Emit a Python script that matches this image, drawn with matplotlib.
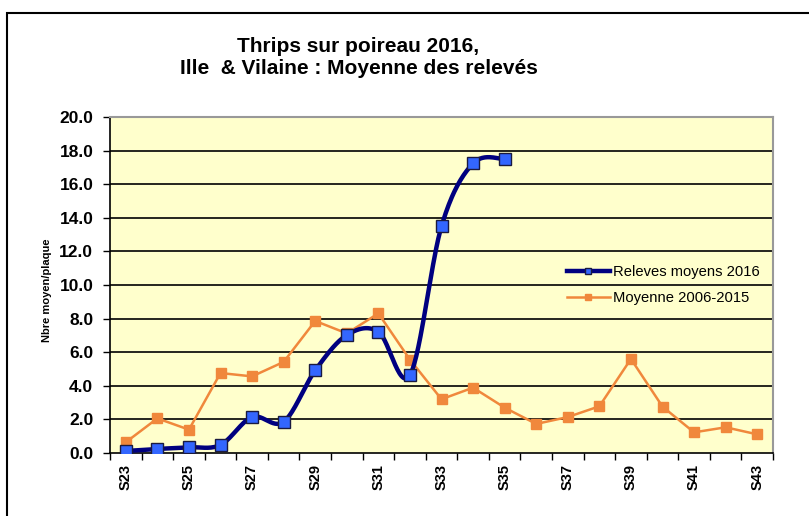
import numpy as np
import matplotlib
matplotlib.use("Agg")
import matplotlib.pyplot as plt
from matplotlib.patches import Rectangle
from matplotlib.lines import Line2D

weeks = ["S%d" % w for w in range(23, 44)]
releves_2016 = [0.12, 0.24, 0.34, 0.48, 2.14, 1.86, 4.92, 7.02, 7.22, 4.64, 13.5, 17.24, 17.5]
moyenne_2006_2015 = [0.64, 2.06, 1.39, 4.76, 4.56, 5.42, 7.86, 7.12, 8.31, 5.56, 3.2, 3.89,
                     2.70, 1.73, 2.14, 2.78, 5.6, 2.76, 1.23, 1.53, 1.11]
yticks = [0, 2, 4, 6, 8, 10, 12, 14, 16, 18, 20]

plt.rcParams['font.family'] = ['Liberation Sans', 'DejaVu Sans']

W, H = 809, 516
fig = plt.figure(figsize=(W / 100, H / 100), dpi=100)
ax = fig.add_axes([110 / W, 1 - 453 / H, (773 - 110) / W, (453 - 117) / H])
ax.set_facecolor('#FFFFCC')

# outer frame
fig.patches.append(Rectangle((7 / W, -0.1), 1.2, 1 - 13 / H + 0.1, transform=fig.transFigure,
                             fill=False, edgecolor='black', linewidth=1.5))


def smooth(xs, ys, n=30):
    xs = np.asarray(xs, float)
    ys = np.asarray(ys, float)
    px = np.concatenate([[xs[0]], xs, [xs[-1]]])
    py = np.concatenate([[ys[0]], ys, [ys[-1]]])
    outx, outy = [], []
    t = np.linspace(0, 1, n, endpoint=False)
    for i in range(1, len(px) - 2):
        for arr, out in ((px, outx), (py, outy)):
            p0, p1, p2, p3 = arr[i - 1], arr[i], arr[i + 1], arr[i + 2]
            c1 = p1 + (p2 - p0) / 6
            c2 = p2 - (p3 - p1) / 6
            out.extend((1 - t) ** 3 * p1 + 3 * (1 - t) ** 2 * t * c1 + 3 * (1 - t) * t ** 2 * c2 + t ** 3 * p2)
    outx.append(xs[-1])
    outy.append(ys[-1])
    return np.array(outx), np.array(outy)


x_all = np.arange(len(weeks))
x_b = np.arange(len(releves_2016))

for y in yticks[1:-1]:
    ax.axhline(y, color='black', linewidth=1.2, zorder=1)

orange = '#F0883C'
ax.plot(x_all, moyenne_2006_2015, color=orange, linewidth=1.8, marker='s', markersize=7,
        markerfacecolor=orange, markeredgecolor=orange, zorder=3)

sx, sy = smooth(x_b, releves_2016)
ax.plot(sx, sy, color='#000080', linewidth=3.2, zorder=4)
ax.plot(x_b, releves_2016, linestyle='none', marker='s', markersize=9,
        markerfacecolor='#3366FF', markeredgecolor='#1A1A40', markeredgewidth=1.0, zorder=5)

h1 = Line2D([], [], color='#000080', linewidth=3.2, marker='s', markersize=5,
            markerfacecolor='#3366FF', markeredgecolor='#1A1A40')
h2 = Line2D([], [], color=orange, linewidth=1.8, marker='s', markersize=5,
            markerfacecolor=orange, markeredgecolor=orange)
leg = ax.legend([h1, h2], ['Releves moyens 2016', 'Moyenne 2006-2015'], loc='upper left',
                bbox_to_anchor=((567 - 110) / (773 - 110), 1 - (265 - 117) / (453 - 117)),
                frameon=False, fontsize=10.6, handlelength=2.9, handletextpad=0.25,
                labelspacing=0.8, borderaxespad=0, borderpad=0)

ax.set_xlim(-0.5, len(weeks) - 0.5)
ax.set_ylim(0, 20)
ax.set_yticks(yticks)
ax.set_yticklabels(["%.1f" % v for v in yticks], fontsize=12.5, fontweight='bold')
ax.set_xticks(x_all)
ax.set_xticklabels([w if i % 2 == 0 else '' for i, w in enumerate(weeks)], rotation=90,
                   fontsize=10.5, fontweight='bold')
ax.set_xticks(np.arange(-0.5, len(weeks), 1), minor=True)
ax.tick_params(axis='x', which='major', length=0, pad=8)
ax.tick_params(axis='x', which='minor', length=5, width=1, direction='out')
ax.tick_params(axis='y', length=5, width=1, direction='out', pad=7)

ax.spines['left'].set_color('black')
ax.spines['bottom'].set_color('black')
ax.spines['left'].set_linewidth(1.2)
ax.spines['bottom'].set_linewidth(1.2)
ax.spines['top'].set_color('#999999')
ax.spines['right'].set_color('#999999')
ax.spines['top'].set_linewidth(1.5)
ax.spines['right'].set_linewidth(1.5)

fig.text(47 / W, 1 - 290 / H, 'Nbre moyen/plaque', rotation=90, ha='center', va='center',
         fontsize=8, fontweight='bold')

fig.text(358 / W, 1 - 47 / H, 'Thrips sur poireau 2016,', ha='center', va='center',
         fontsize=15, fontweight='bold')
fig.text(359 / W, 1 - 69 / H, 'Ille  & Vilaine : Moyenne des relevés', ha='center', va='center',
         fontsize=15, fontweight='bold')

fig.savefig('out.png', dpi=100)
